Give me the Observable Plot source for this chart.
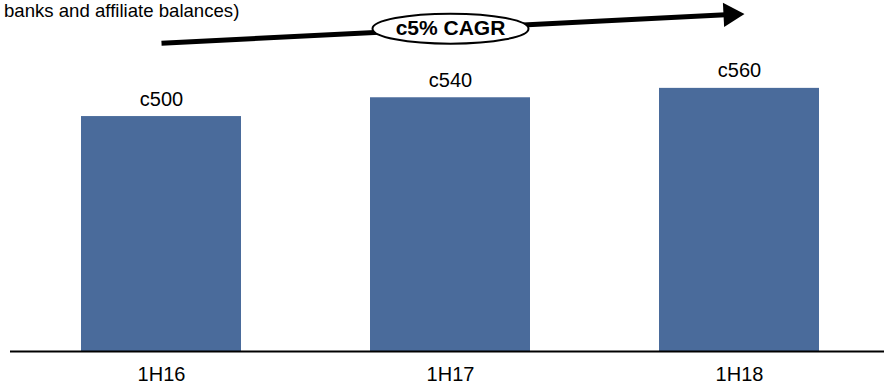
<!DOCTYPE html>
<html>
<head>
<meta charset="utf-8">
<script src="https://cdn.jsdelivr.net/npm/d3@7"></script>
<script src="https://cdn.jsdelivr.net/npm/@observablehq/plot@0.6"></script>
<style>
  html, body { margin: 0; padding: 0; background: #fff; }
  #wrap { position: relative; width: 892px; height: 384px; overflow: hidden; font-family: Arial, "Liberation Sans", sans-serif; }
  #sub { position: absolute; left: 4px; top: 0px; font-size: 18.6px; line-height: 21px; color: #000; white-space: nowrap; z-index: 2; }
  #wrap svg { position: absolute; left: 0; top: 0; }
</style>
</head>
<body>
<div id="wrap"><div id="sub"></div></div>
<script>
const subtitle = "banks and affiliate balances)";
const periods = ["1H16", "1H17", "1H18"];
const values = [500, 540, 560];
const valueLabels = ["c500", "c540", "c560"];
const cagrLabel = "c5% CAGR";
// growth arrow annotation, in data units (period, value)
const arrowFrom = ["1H16", 656];
const arrowTo = ["1H18", 718];
const badgeAt = ["1H17", 687];

document.getElementById("sub").textContent = subtitle;
const data = periods.map((p, i) => ({period: p, value: values[i], label: valueLabels[i]}));

// ellipse symbol for the CAGR badge
const ellipse = {
  draw(ctx) {
    const rx = 78, ry = 15, k = 0.5523;
    ctx.moveTo(-rx, 0);
    ctx.bezierCurveTo(-rx, -ry * k, -rx * k, -ry, 0, -ry);
    ctx.bezierCurveTo(rx * k, -ry, rx, -ry * k, rx, 0);
    ctx.bezierCurveTo(rx, ry * k, rx * k, ry, 0, ry);
    ctx.bezierCurveTo(-rx * k, ry, -rx, ry * k, -rx, 0);
    ctx.closePath();
  }
};
const angle = Math.atan2(-(arrowTo[1] - arrowFrom[1]) * 0.47, 580) * 180 / Math.PI;

const chart = Plot.plot({
  width: 892,
  height: 384,
  marginTop: 0,
  marginBottom: 33,
  marginLeft: 10,
  marginRight: 8,
  style: {fontFamily: "Arial, 'Liberation Sans', sans-serif", fontSize: "20px", color: "#000", background: "transparent"},
  x: {domain: periods, paddingInner: 0.445, paddingOuter: 0.2225, insetLeft: 6, insetRight: 0, axis: null},
  y: {domain: [0, 747], axis: null},
  marks: [
    Plot.barY(data, {x: "period", y: "value", fill: "#4a6b9b"}),
    Plot.ruleY([0], {stroke: "#000", strokeWidth: 2}),
    Plot.text(data, {x: "period", y: "value", text: "label", lineAnchor: "bottom", dy: -11, fill: "#000", fontSize: 20}),
    Plot.text(periods, {x: d => d, y: () => 0, text: d => d, lineAnchor: "middle", dy: 23, fill: "#000", fontSize: 20}),
    Plot.arrow([0], {x1: () => arrowFrom[0], y1: () => arrowFrom[1], x2: () => arrowTo[0], y2: () => arrowTo[1], stroke: "#000", strokeWidth: 5, headLength: 0, insetEnd: 14, strokeLinecap: "butt"}),
    Plot.dot([0], {x: () => arrowTo[0], y: () => arrowTo[1], symbol: "triangle", r: 9, fill: "#000", stroke: "none", rotate: 90 + angle, dx: -9, dy: 0.5}),
    Plot.dot([0], {x: () => badgeAt[0], y: () => badgeAt[1], symbol: ellipse, fill: "#fff", stroke: "#000", strokeWidth: 2}),
    Plot.text([cagrLabel], {x: () => badgeAt[0], y: () => badgeAt[1], text: d => d, fontWeight: "bold", fontSize: 21, fill: "#000"})
  ]
});
document.getElementById("wrap").appendChild(chart);
</script>
</body>
</html>
